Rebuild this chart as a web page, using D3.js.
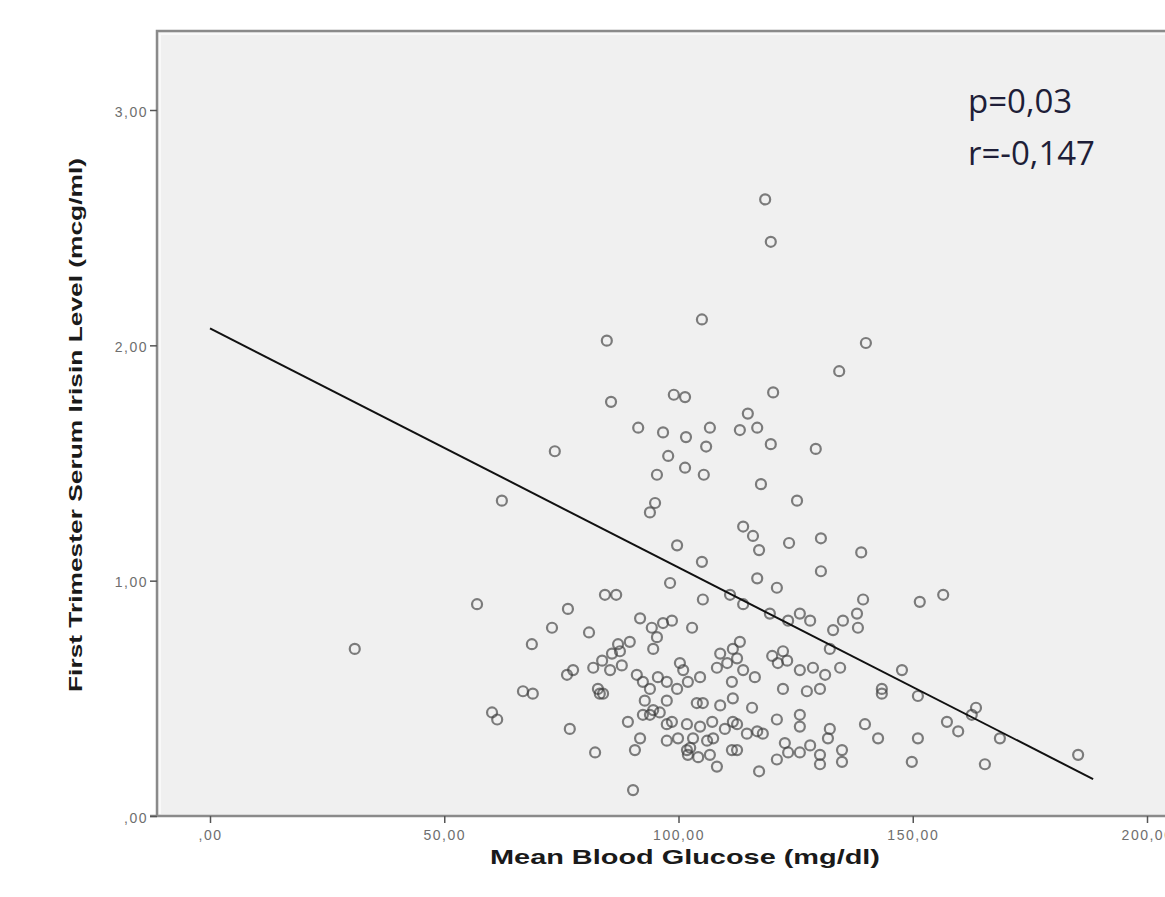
<!DOCTYPE html>
<html>
<head>
<meta charset="utf-8">
<script src="https://cdn.jsdelivr.net/npm/d3@7"></script>
<style>
  body { margin: 0; background: #fff; }
  svg { display: block; }
</style>
</head>
<body>
<script>
// mean blood glucose (mg/dl) and first trimester irisin (mcg/ml)
var glucose = [
  118.5, 119.7, 105.0, 84.7, 140.0, 134.3, 85.6, 120.2, 99.0, 101.4,
  73.6, 91.4, 96.7, 101.6, 106.7, 105.9, 114.8, 113.1, 116.8, 119.7,
  129.3, 97.8, 101.4, 95.4, 105.4, 117.6, 125.3, 62.3, 95.0, 93.9,
  113.8, 115.9, 117.2, 123.6, 130.4, 139.0, 99.7, 105.0, 130.4, 116.8,
  121.0, 98.2, 105.2, 57.0, 76.4, 84.3, 86.7, 73.0, 80.9, 68.7,
  30.9, 151.5, 156.5, 139.4, 138.1, 138.3, 135.1, 133.0, 132.3, 111.0,
  113.8, 119.5, 123.4, 125.9, 128.1, 91.8, 94.3, 96.7, 98.6, 95.4,
  94.6, 102.9, 87.1, 87.5, 85.8, 83.7, 81.8, 77.5, 76.2, 85.4,
  82.8, 83.9, 91.1, 92.4, 95.6, 97.5, 100.3, 101.0, 102.0, 104.6,
  99.7, 93.9, 108.9, 110.4, 111.6, 108.2, 111.4, 113.1, 112.5, 113.8,
  116.3, 120.0, 122.3, 123.2, 121.2, 125.9, 128.7, 131.3, 134.5, 122.3,
  127.4, 130.2, 147.7, 143.4, 151.1, 163.5, 162.6, 157.3, 159.7, 168.6,
  185.3, 165.4, 151.1, 149.8, 139.8, 142.6, 66.8, 68.9, 60.2, 61.3,
  76.8, 82.2, 90.3, 90.7, 89.2, 92.4, 94.6, 91.8, 97.5, 97.5,
  102.0, 102.5, 83.2, 93.9, 96.0, 97.5, 98.6, 103.9, 105.2, 108.9,
  111.6, 101.8, 103.1, 101.8, 104.2, 106.1, 106.7, 107.4, 108.2, 111.4,
  111.6, 115.7, 112.5, 114.6, 116.8, 112.5, 118.0, 121.0, 125.9, 125.9,
  122.7, 123.4, 121.0, 125.9, 128.1, 130.2, 130.2, 132.3, 131.9, 134.9,
  134.9, 117.2, 143.4, 92.8, 99.9, 107.2, 109.9, 104.6, 87.9, 89.6
];
var irisin = [
  2.62, 2.44, 2.11, 2.02, 2.01, 1.89, 1.76, 1.80, 1.79, 1.78,
  1.55, 1.65, 1.63, 1.61, 1.65, 1.57, 1.71, 1.64, 1.65, 1.58,
  1.56, 1.53, 1.48, 1.45, 1.45, 1.41, 1.34, 1.34, 1.33, 1.29,
  1.23, 1.19, 1.13, 1.16, 1.18, 1.12, 1.15, 1.08, 1.04, 1.01,
  0.97, 0.99, 0.92, 0.90, 0.88, 0.94, 0.94, 0.80, 0.78, 0.73,
  0.71, 0.91, 0.94, 0.92, 0.86, 0.80, 0.83, 0.79, 0.71, 0.94,
  0.90, 0.86, 0.83, 0.86, 0.83, 0.84, 0.80, 0.82, 0.83, 0.76,
  0.71, 0.80, 0.73, 0.70, 0.69, 0.66, 0.63, 0.62, 0.60, 0.62,
  0.54, 0.52, 0.60, 0.57, 0.59, 0.57, 0.65, 0.62, 0.57, 0.59,
  0.54, 0.54, 0.69, 0.65, 0.71, 0.63, 0.57, 0.74, 0.67, 0.62,
  0.59, 0.68, 0.70, 0.66, 0.65, 0.62, 0.63, 0.60, 0.63, 0.54,
  0.53, 0.54, 0.62, 0.54, 0.51, 0.46, 0.43, 0.40, 0.36, 0.33,
  0.26, 0.22, 0.33, 0.23, 0.39, 0.33, 0.53, 0.52, 0.44, 0.41,
  0.37, 0.27, 0.11, 0.28, 0.40, 0.43, 0.45, 0.33, 0.39, 0.32,
  0.26, 0.29, 0.52, 0.43, 0.44, 0.49, 0.40, 0.48, 0.48, 0.47,
  0.50, 0.39, 0.33, 0.28, 0.25, 0.32, 0.26, 0.33, 0.21, 0.28,
  0.40, 0.46, 0.39, 0.35, 0.36, 0.28, 0.35, 0.41, 0.43, 0.38,
  0.31, 0.27, 0.24, 0.27, 0.30, 0.26, 0.22, 0.37, 0.33, 0.28,
  0.23, 0.19, 0.52, 0.49, 0.33, 0.40, 0.37, 0.38, 0.64, 0.74
];

// tick values of both axes
var xTicks = [0, 50, 100, 150, 200];
var yTicks = [0, 1, 2, 3];

// fit line (intercept, slope) and its x range
var fitIntercept = 2.072;
var fitSlope = -0.01016;
var fitRange = [0, 188.5];

// stats text
var statLines = ["p=0,03", "r=-0,147"];

var W = 1165, H = 897;
var svg = d3.select("body").append("svg")
  .attr("width", W)
  .attr("height", H);

// scales: 0 -> 210px, 200 -> 1147px ; 0 -> 816px, 3 -> 110px
var x = d3.scaleLinear().domain([0, 200]).range([210, 1147]);
var y = d3.scaleLinear().domain([0, 3]).range([816, 110]);

// plot box edges (right edge runs past the picture like the source)
var boxL = 157, boxT = 31, boxB = 816, boxR = W + 20;

svg.append("rect")
  .attr("x", boxL).attr("y", boxT)
  .attr("width", boxR - boxL).attr("height", boxB - boxT)
  .attr("fill", "#f0f0f0");

// light inner bevel
svg.append("path")
  .attr("d", "M" + (boxL + 3) + "," + (boxB - 2) + "V" + (boxT + 3) + "H" + boxR)
  .attr("fill", "none")
  .attr("stroke", "#f9f9f9")
  .attr("stroke-width", 2);

// frame
svg.append("path")
  .attr("d", "M" + boxL + "," + boxB + "V" + boxT + "H" + boxR)
  .attr("fill", "none")
  .attr("stroke", "#8a8a8a")
  .attr("stroke-width", 2.5);

// spss style number: 1,00  ,00
function fmt(d) {
  return d3.format(".2f")(d).replace(".", ",").replace(/^0,/, ",");
}

var xAxis = d3.axisBottom(x).tickValues(xTicks).tickSize(7).tickFormat(fmt);
var yAxis = d3.axisLeft(y).tickValues(yTicks).tickSize(7).tickFormat(fmt);

var gx = svg.append("g")
  .attr("transform", "translate(0," + boxB + ")")
  .call(xAxis);
gx.select(".domain")
  .attr("d", "M" + (boxL - 7) + ",0H" + boxR)
  .attr("stroke", "#8a8a8a")
  .attr("stroke-width", 2.5);

var gy = svg.append("g")
  .attr("transform", "translate(" + boxL + ",0)")
  .call(yAxis);
gy.select(".domain").remove();

svg.selectAll(".tick line")
  .attr("stroke", "#555")
  .attr("stroke-width", 1.5);
svg.selectAll(".tick text")
  .attr("font-family", "'Liberation Sans', Arial, sans-serif")
  .attr("font-size", "14px")
  .attr("letter-spacing", "1.5px")
  .attr("fill", "#6e6e6e");
gx.selectAll(".tick text").attr("y", 14);
gy.selectAll(".tick text").attr("x", -9).attr("dy", "0.45em");

// points
svg.append("g").selectAll("circle")
  .data(glucose)
  .enter()
  .append("circle")
  .attr("cx", function (d) { return x(d); })
  .attr("cy", function (d, i) { return y(irisin[i]); })
  .attr("r", 5)
  .attr("fill", "none")
  .attr("stroke", "#3c3c3c")
  .attr("stroke-opacity", 0.65)
  .attr("stroke-width", 2.2);

// regression line
var line = d3.line()
  .x(function (d) { return x(d); })
  .y(function (d) { return y(fitIntercept + fitSlope * d); });
svg.append("path")
  .datum(fitRange)
  .attr("d", line)
  .attr("fill", "none")
  .attr("stroke", "#111")
  .attr("stroke-width", 2);

// p / r text
svg.selectAll(".stat")
  .data(statLines)
  .enter()
  .append("text")
  .attr("class", "stat")
  .attr("x", 968)
  .attr("y", function (d, i) { return 113 + i * 52; })
  .attr("font-family", "'Open Sans', sans-serif")
  .attr("font-size", "33px")
  .attr("fill", "#1e1e38")
  .text(function (d) { return d; });

// axis titles
svg.append("text")
  .attr("x", 685)
  .attr("y", 864)
  .attr("text-anchor", "middle")
  .attr("textLength", 390)
  .attr("lengthAdjust", "spacingAndGlyphs")
  .attr("font-family", "'Liberation Sans', Arial, sans-serif")
  .attr("font-weight", "bold")
  .attr("font-size", "21px")
  .attr("fill", "#1a1a1a")
  .text("Mean Blood Glucose (mg/dl)");

svg.append("text")
  .attr("transform", "translate(82,425) rotate(-90)")
  .attr("text-anchor", "middle")
  .attr("textLength", 534)
  .attr("lengthAdjust", "spacingAndGlyphs")
  .attr("font-family", "'Liberation Sans', Arial, sans-serif")
  .attr("font-weight", "bold")
  .attr("font-size", "19px")
  .attr("fill", "#1a1a1a")
  .text("First Trimester Serum Irisin Level (mcg/ml)");
</script>
</body>
</html>
